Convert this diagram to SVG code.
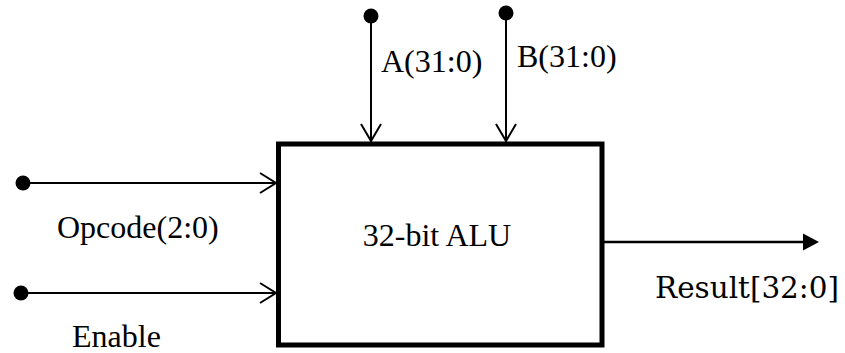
<svg xmlns="http://www.w3.org/2000/svg" width="845" height="353" viewBox="0 0 845 353">
<defs>
<style>
.w{stroke:#000;stroke-width:2;fill:none}
.ch{stroke:#000;stroke-width:2;fill:none;stroke-linejoin:miter}
.dot{fill:#000}
</style>
</defs>
<rect width="845" height="353" fill="#fff"/>
<g id="alu">
<rect x="278.5" y="144" width="323.5" height="201" fill="#fff" stroke="#000" stroke-width="5"/>
<text font-family="Liberation Serif, Times New Roman, serif" font-size="32" x="437" y="246" text-anchor="middle">32-bit ALU</text>
</g>
<g id="connectors">
<g id="in-a">
<circle class="dot" cx="371" cy="16" r="7.5"/>
<line class="w" x1="371" y1="16" x2="371" y2="142"/>
<polyline class="ch" points="361,124 371,141 381,124"/>
</g>
<g id="in-b">
<circle class="dot" cx="506" cy="13" r="7.5"/>
<line class="w" x1="506" y1="13" x2="506" y2="142"/>
<polyline class="ch" points="496,124 506,141 516,124"/>
</g>
<g id="in-op">
<circle class="dot" cx="23" cy="183" r="7.5"/>
<line class="w" x1="23" y1="183" x2="276" y2="183"/>
<polyline class="ch" points="260,173 276,183 260,193"/>
</g>
<g id="in-en">
<circle class="dot" cx="21" cy="293" r="7.5"/>
<line class="w" x1="21" y1="293" x2="276" y2="293"/>
<polyline class="ch" points="260,283 276,293 260,303"/>
</g>
<g id="out">
<line stroke="#000" stroke-width="2.5" x1="604" y1="242" x2="804" y2="242"/>
<path d="M803,233.5 L819,242 L803,250.5 Z" fill="#000"/>
</g>
</g>
<g id="labels" font-family="Liberation Serif, Times New Roman, serif" font-size="32">
<text x="381" y="72">A(31:0)</text>
<text x="517" y="67">B(31:0)</text>
<text x="57" y="238">Opcode(2:0)</text>
<text x="72" y="347">Enable</text>
<text font-family="DejaVu Serif, serif" font-size="29" x="655" y="298" textLength="184" lengthAdjust="spacingAndGlyphs">Result[32:0]</text>
</g>
</svg>
